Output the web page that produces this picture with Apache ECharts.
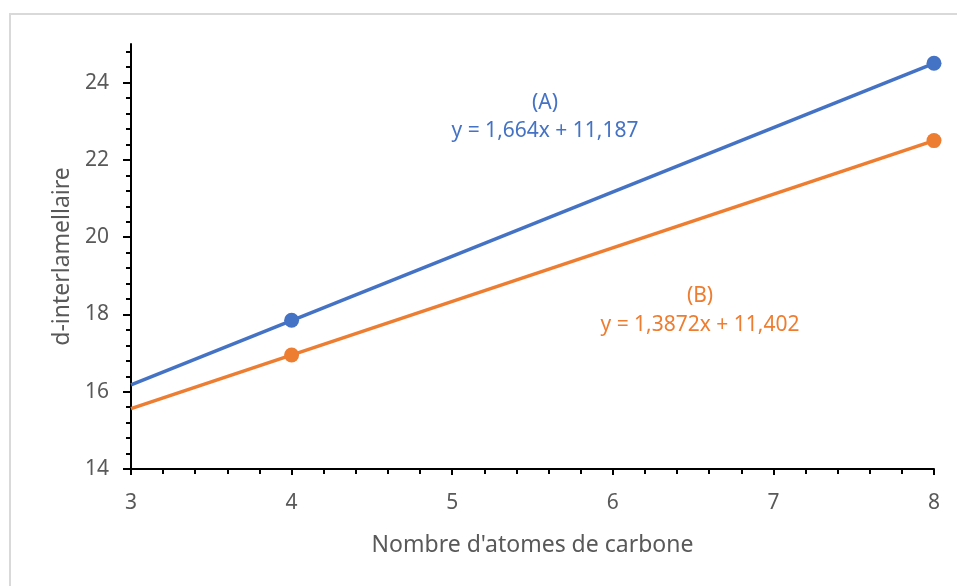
<!DOCTYPE html>
<html>
<head>
<meta charset="utf-8">
<script src="https://cdn.jsdelivr.net/npm/echarts@6/dist/echarts.min.js"></script>
<style>
  html, body { margin: 0; padding: 0; background: #fff; }
  #main { width: 957px; height: 586px; }
</style>
</head>
<body>
<div id="main"></div>
<script>
// points mesurés
var pointsA = [[4, 17.85], [8, 24.5]];
var pointsB = [[4, 16.95], [8, 22.5]];
// courbes de tendance (équations affichées)
var slopes = [1.664, 1.3872];
var intercepts = [11.187, 11.402];
var trendRange = [3, 8];
var seriesNames = ["(A)", "(B)"];
var equations = ["y = 1,664x + 11,187", "y = 1,3872x + 11,402"];
var yTicks = [14, 16, 18, 20, 22, 24];
var colors = ["#4472C4", "#ED7D31"];

var font = "Noto Sans";
var grey = "#595959";

function trend(i) {
  return trendRange.map(function (x) { return [x, slopes[i] * x + intercepts[i]]; });
}

// petites graduations de y : tous les 0,4
var yMinor = [];
for (var v = 14.4; v < 25; v += 0.4) {
  var r = Math.round(v * 10) / 10;
  if (r % 2 !== 0) yMinor.push(r);
}

var chart = echarts.init(document.getElementById("main"));

var option = {
  backgroundColor: "#fff",
  animation: false,
  grid: { left: 131, right: 23, top: 44, bottom: 117 },
  xAxis: {
    type: "value",
    min: 3,
    max: 8,
    interval: 1,
    name: "Nombre d'atomes de carbone",
    nameLocation: "middle",
    nameGap: 65,
    nameTextStyle: { color: grey, fontFamily: font, fontSize: 23 },
    axisLine: { show: true, lineStyle: { color: "#000", width: 2 } },
    axisTick: { show: true, length: 6, lineStyle: { color: "#000", width: 2 } },
    minorTick: { show: true, splitNumber: 5, length: 5, lineStyle: { color: "#000", width: 2 } },
    axisLabel: { color: grey, fontFamily: font, fontSize: 21, margin: 24 },
    splitLine: { show: false },
    minorSplitLine: { show: false }
  },
  yAxis: [
    {
      type: "value",
      min: 14,
      max: 25,
      interval: 2,
      name: "d-interlamellaire",
      nameLocation: "middle",
      nameGap: 57,
      nameTextStyle: { color: grey, fontFamily: font, fontSize: 23 },
      axisLine: { show: true, lineStyle: { color: "#000", width: 2 } },
      axisTick: { show: true, length: 8, customValues: yTicks, lineStyle: { color: "#000", width: 2 } },
      axisLabel: { color: grey, fontFamily: font, fontSize: 21, margin: 22, customValues: yTicks },
      splitLine: { show: false }
    },
    {
      type: "value",
      position: "left",
      min: 14,
      max: 25,
      axisLine: { show: false },
      axisTick: { show: true, length: 5, customValues: yMinor, lineStyle: { color: "#000", width: 2 } },
      axisLabel: { show: false },
      splitLine: { show: false }
    }
  ],
  series: [
    {
      name: "A-tendance",
      type: "line",
      data: trend(0),
      showSymbol: false,
      lineStyle: { color: colors[0], width: 3.5 },
      z: 2
    },
    {
      name: "B-tendance",
      type: "line",
      data: trend(1),
      showSymbol: false,
      lineStyle: { color: colors[1], width: 3.5 },
      z: 2
    },
    {
      name: "A",
      type: "scatter",
      data: pointsA,
      symbolSize: 15,
      itemStyle: { color: colors[0], opacity: 1 },
      z: 3
    },
    {
      name: "B",
      type: "scatter",
      data: pointsB,
      symbolSize: 15,
      itemStyle: { color: colors[1], opacity: 1 },
      z: 3
    }
  ],
  graphic: [
    {
      type: "rect",
      shape: { x: 10, y: 14, width: 960, height: 600 },
      style: { fill: "none", stroke: "#d9d9d9", lineWidth: 2 },
      silent: true
    },
    {
      type: "text", x: 545, y: 103,
      style: { text: seriesNames[0], fill: colors[0], font: "21px " + font, align: "center", verticalAlign: "middle" }
    },
    {
      type: "text", x: 545, y: 131,
      style: { text: equations[0], fill: colors[0], font: "21px " + font, align: "center", verticalAlign: "middle" }
    },
    {
      type: "text", x: 700, y: 296,
      style: { text: seriesNames[1], fill: colors[1], font: "21px " + font, align: "center", verticalAlign: "middle" }
    },
    {
      type: "text", x: 700, y: 325,
      style: { text: equations[1], fill: colors[1], font: "21px " + font, align: "center", verticalAlign: "middle" }
    }
  ]
};

chart.setOption(option);
</script>
</body>
</html>
